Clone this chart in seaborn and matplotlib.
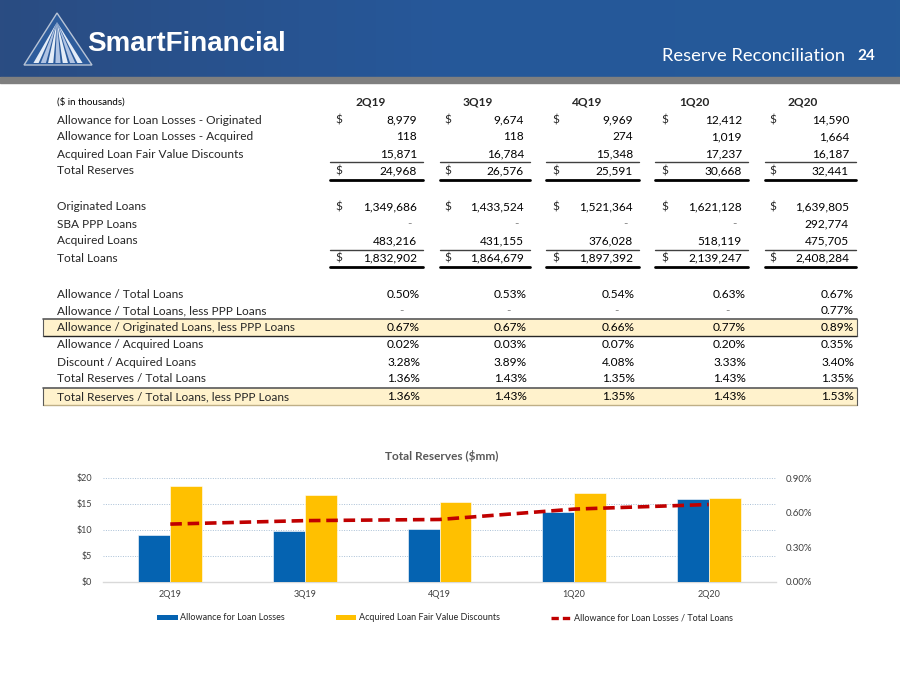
import numpy as np
import pandas as pd
import matplotlib
matplotlib.use("Agg")
import matplotlib.pyplot as plt
import seaborn as sns
from matplotlib.patches import Polygon, Rectangle, Patch
from matplotlib.lines import Line2D
from matplotlib.ticker import FuncFormatter, FixedLocator
from matplotlib.colors import LinearSegmentedColormap

# ---------------- data ----------------
quarters = ["2Q19", "3Q19", "4Q19", "1Q20", "2Q20"]
allow_orig = [8979, 9674, 9969, 12412, 14590]
allow_acq = [118, 118, 274, 1019, 1664]
fv_disc = [15871, 16784, 15348, 17237, 16187]
total_res = [24968, 26576, 25591, 30668, 32441]
orig_loans = [1349686, 1433524, 1521364, 1621128, 1639805]
sba_ppp = [None, None, None, None, 292774]
acq_loans = [483216, 431155, 376028, 518119, 475705]
total_loans = [1832902, 1864679, 1897392, 2139247, 2408284]

pct_allow_total = [0.50, 0.53, 0.54, 0.63, 0.67]
pct_allow_total_less = [None, None, None, None, 0.77]
pct_allow_orig_less = [0.67, 0.67, 0.66, 0.77, 0.89]
pct_allow_acq = [0.02, 0.03, 0.07, 0.20, 0.35]
pct_disc_acq = [3.28, 3.89, 4.08, 3.33, 3.40]
pct_res_total = [1.36, 1.43, 1.35, 1.43, 1.35]
pct_res_total_less = [1.36, 1.43, 1.35, 1.43, 1.53]

chart_allow = [9.0, 9.8, 10.2, 13.4, 16.0]
chart_disc = [18.5, 16.7, 15.3, 17.2, 16.2]
chart_ratio = [0.0050, 0.0053, 0.0054, 0.0063, 0.0067]

series_names = ["Allowance for Loan Losses", "Acquired Loan Fair Value Discounts"]
line_name = "Allowance for Loan Losses / Total Loans"

# ---------------- style ----------------
sns.set_theme(style="white")
FONT = "Lato"
plt.rcParams["font.family"] = [FONT, "DejaVu Sans"]

BLUE = "#0563B1"
YELLOW = "#FFC000"
RED = "#C00000"

fig = plt.figure(figsize=(9, 6.75), dpi=100)
fig.patch.set_facecolor("white")

bg = fig.add_axes([0, 0, 1, 1], zorder=0)
bg.set_xlim(0, 900)
bg.set_ylim(675, 0)
bg.axis("off")

# header band
grad = np.linspace(0, 1, 256).reshape(1, -1)
cmap = LinearSegmentedColormap.from_list("hdr", ["#2A4C82", "#26589A", "#255A99"])
bg.imshow(grad, extent=(0, 900, 77, 0), cmap=cmap, aspect="auto", zorder=1)
bg.add_patch(Rectangle((0, 77), 900, 6, color="#7F7F7F", zorder=2))

# logo triangle
tri = [(24, 65), (57, 13), (92, 65)]
bg.add_patch(Polygon(tri, closed=True, facecolor="#2D5C9C", edgecolor="none", zorder=3))
for i, bx in enumerate(np.linspace(36, 80, 7)):
    w = 2.6
    bg.add_patch(Polygon([(57, 22), (bx - w, 63), (bx + w, 63)], closed=True,
                         facecolor="#E4ECF7" if i % 2 == 0 else "#AFC3E3",
                         edgecolor="none", zorder=4))
bg.add_patch(Polygon(tri, closed=True, facecolor="none", edgecolor="#B8C4D6", lw=1.0, zorder=5))
bg.text(87, 44, "SmartFinancial", color="white", fontsize=20, fontweight="bold",
        family=["Liberation Sans", "DejaVu Sans"], va="center", ha="left", zorder=6)

bg.text(845, 56, "Reserve Reconciliation", color="white", fontsize=13.2,
        va="center", ha="right", zorder=5)
bg.text(875, 56, "24", color="white", fontsize=11, fontweight="bold",
        va="center", ha="right", zorder=5)

# ---------------- table ----------------
fs = 8.6
LABEL_X = 57
dollar_x = [335, 444, 552, 661, 769]
num_right = [417, 524, 633, 742, 849]
pct_right = [420, 527, 635, 746, 854]
head_x = [371, 478, 587, 694, 803]
col_left = [330, 440, 546, 655, 765]
col_right = [423, 530, 639, 748, 856]


def fmt_num(v):
    return "-" if v is None else f"{v:,}"


def fmt_pct(v):
    return "-" if v is None else f"{v:.2f}%"


# highlight rows
for (y0, y1) in [(319, 335.5), (387.5, 404.5)]:
    bg.add_patch(Rectangle((43, y0), 814, y1 - y0, facecolor="#FFF2CC",
                           edgecolor="none", zorder=2))
    bg.plot([43, 857], [y0, y0], color="#595959", lw=1.2, zorder=3)
    bg.plot([43, 857], [y1, y1], color="#262626" if y0 < 350 else "#BFAF86", lw=1.0, zorder=3)
    bg.plot([43, 43], [y0, y1], color="#595959", lw=0.8, zorder=3)
    bg.plot([857, 857], [y0, y1], color="#595959", lw=0.8, zorder=3)

bg.text(LABEL_X, 102, "($ in thousands)", fontsize=7.0, va="center", ha="left", color="black")
for q, hx in zip(quarters, head_x):
    bg.text(hx, 102, q, fontsize=fs, fontweight="bold", va="center", ha="center")

money_rows = [
    ("Allowance for Loan Losses - Originated", allow_orig, True, 120),
    ("Allowance for Loan Losses - Acquired", allow_acq, False, 137),
    ("Acquired Loan Fair Value Discounts", fv_disc, False, 154),
    ("Total Reserves", total_res, True, 171),
    ("Originated Loans", orig_loans, True, 207),
    ("SBA PPP Loans", sba_ppp, False, 224),
    ("Acquired Loans", acq_loans, False, 241),
    ("Total Loans", total_loans, True, 258),
]
for label, vals, dollar, y in money_rows:
    bg.text(LABEL_X, y, label, fontsize=fs, va="center", ha="left")
    for i, v in enumerate(vals):
        xr = num_right[i] - (5 if v is None else 0)
        bg.text(xr, y, fmt_num(v), fontsize=fs, va="center", ha="right",
                color="#7F7F7F" if v is None else "black")
        if dollar:
            bg.text(dollar_x[i], y, "$", fontsize=fs, va="center", ha="left")

for ytop, ybot in [(162, 180), (249.5, 267)]:
    for xl, xr in zip(col_left, col_right):
        bg.plot([xl, xr], [ytop, ytop], color="#404040", lw=1.0, zorder=3)
        bg.plot([xl, xr], [ybot, ybot], color="black", lw=2.0, zorder=3)

pct_rows = [
    ("Allowance / Total Loans", pct_allow_total, 294),
    ("Allowance / Total Loans, less PPP Loans", pct_allow_total_less, 311),
    ("Allowance / Originated Loans, less PPP Loans", pct_allow_orig_less, 327.5),
    ("Allowance / Acquired Loans", pct_allow_acq, 345),
    ("Discount / Acquired Loans", pct_disc_acq, 362),
    ("Total Reserves / Total Loans", pct_res_total, 379),
    ("Total Reserves / Total Loans, less PPP Loans", pct_res_total_less, 396.5),
]
for label, vals, y in pct_rows:
    bg.text(LABEL_X, y, label, fontsize=fs, va="center", ha="left", zorder=4)
    for i, v in enumerate(vals):
        xr = pct_right[i] - (16 if v is None else 0)
        bg.text(xr, y, fmt_pct(v), fontsize=fs, va="center", ha="right", zorder=4,
                color="#7F7F7F" if v is None else "black")

# ---------------- chart ----------------
ax = fig.add_axes([103 / 900, 1 - 581.7 / 675, 673 / 900, 103.7 / 675], zorder=2)
ax.set_facecolor("none")
df = pd.DataFrame({
    "Quarter": quarters * 2,
    "Series": [series_names[0]] * 5 + [series_names[1]] * 5,
    "Value": chart_allow + chart_disc,
})
sns.barplot(data=df, x="Quarter", y="Value", hue="Series", palette=[BLUE, YELLOW],
            width=0.474, saturation=1, ax=ax, legend=False,
            edgecolor="#FFFFFF", linewidth=0.4, zorder=3)
ax.set_ylim(0, 20)
ax.set_xlim(-0.5, 4.5)
ax.yaxis.set_major_locator(FixedLocator([0, 5, 10, 15, 20]))
ax.yaxis.set_major_formatter(FuncFormatter(lambda v, p: f"${v:.0f}"))
ax.set_xlabel("")
ax.set_ylabel("")
ax.grid(axis="y", color="#A9C0D6", linestyle=(0, (1, 1.5)), lw=0.7, zorder=0)
ax.set_axisbelow(True)
for s in ["top", "left", "right"]:
    ax.spines[s].set_visible(False)
ax.spines["bottom"].set_color("#D9D9D9")
ax.spines["bottom"].set_linewidth(1.0)
ax.tick_params(axis="both", length=0, labelsize=6.5, colors="#404040")
ax.tick_params(axis="y", pad=8)
ax.tick_params(axis="x", pad=6)

ax2 = ax.twinx()
sns.lineplot(x=np.arange(len(quarters)), y=chart_ratio, ax=ax2, color=RED, lw=2.6, zorder=5)
ax2.lines[0].set_dashes([3.2, 1.6])
ax2.set_ylim(0, 0.009)
ax2.set_xlim(-0.5, 4.5)
ax2.yaxis.set_major_locator(FixedLocator([0, 0.003, 0.006, 0.009]))
ax2.yaxis.set_major_formatter(FuncFormatter(lambda v, p: f"{v * 100:.2f}%"))
ax2.set_ylabel("")
for s in ax2.spines.values():
    s.set_visible(False)
ax2.tick_params(axis="y", length=0, labelsize=7.0, colors="#404040", pad=7)
ax2.grid(False)

bg.text(442, 456, "Total Reserves ($mm)", fontsize=8.5, fontweight="bold",
        color="#595959", ha="center", va="center")

handles = [Patch(facecolor=BLUE, edgecolor="none"),
           Patch(facecolor=YELLOW, edgecolor="none"),
           Line2D([0], [0], color=RED, lw=2.4, dashes=[2.2, 1.2])]
leg = fig.legend(handles, series_names + [line_name], loc="center",
                 bbox_to_anchor=(445 / 900, 1 - 618 / 675), ncol=3, frameon=False,
                 fontsize=6.5, handlelength=2.3, handleheight=0.45, handletextpad=0.3,
                 columnspacing=5.6)
for t in leg.get_texts():
    t.set_color("#262626")

fig.savefig("out.png", dpi=100, facecolor="white")
